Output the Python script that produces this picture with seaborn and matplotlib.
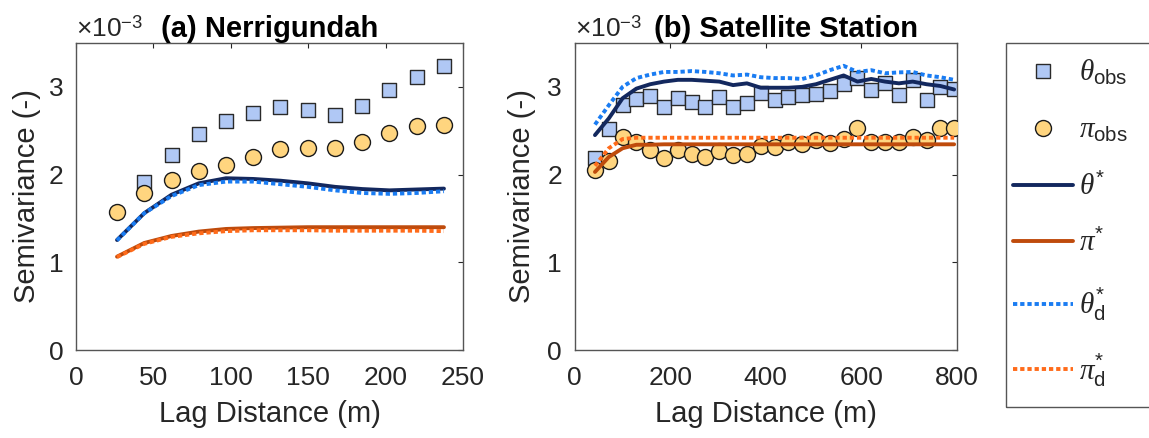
import numpy as np
import matplotlib
matplotlib.use("Agg")
import matplotlib.pyplot as plt
from matplotlib.lines import Line2D
from matplotlib.patches import Rectangle
import seaborn as sns

# ---- semivariance data (units of 1e-3) ----
# (a) Nerrigundah
lag_a = [26.5, 44.1, 61.7, 79.3, 96.9, 114.5, 132.1, 149.7, 167.3, 184.9, 202.5, 220.1, 237.7]
theta_obs_a = [1.92, 2.22, 2.46, 2.615, 2.70, 2.77, 2.74, 2.68, 2.78, 2.96, 3.11, 3.24]
pi_obs_a = [1.577, 1.787, 1.94, 2.04, 2.11, 2.20, 2.29, 2.30, 2.30, 2.37, 2.47, 2.55, 2.57]
theta_star_a = [1.254, 1.56, 1.77, 1.90, 1.958, 1.95, 1.93, 1.90, 1.86, 1.835, 1.82, 1.83, 1.84]
pi_star_a = [1.064, 1.22, 1.30, 1.35, 1.38, 1.39, 1.395, 1.40, 1.40, 1.40, 1.40, 1.40, 1.40]
theta_d_a = [1.25, 1.56, 1.755, 1.88, 1.92, 1.92, 1.89, 1.86, 1.82, 1.79, 1.78, 1.79, 1.81]
pi_d_a = [1.06, 1.21, 1.29, 1.33, 1.355, 1.365, 1.365, 1.365, 1.36, 1.36, 1.36, 1.36, 1.355]

# (b) Satellite Station
lag_b = [42.6, 71.5, 100.4, 129.3, 158.2, 187.1, 216.0, 244.9, 273.8, 302.7, 331.6, 360.5, 389.4,
         418.3, 447.2, 476.1, 505.0, 533.9, 562.8, 591.7, 620.6, 649.5, 678.4, 707.3, 736.2,
         765.1, 794.0]
theta_obs_b = [2.186, 2.52, 2.79, 2.86, 2.90, 2.77, 2.87, 2.83, 2.77, 2.88, 2.77, 2.82, 2.93,
               2.85, 2.89, 2.91, 2.92, 2.95, 3.03, 3.10, 2.96, 3.04, 2.91, 3.08, 2.85, 3.00, 2.98]
pi_obs_b = [2.05, 2.15, 2.43, 2.37, 2.28, 2.19, 2.28, 2.24, 2.20, 2.27, 2.22, 2.24, 2.33,
            2.31, 2.37, 2.345, 2.39, 2.36, 2.41, 2.535, 2.375, 2.37, 2.37, 2.43, 2.39, 2.535, 2.53]
theta_star_b = [2.45, 2.64, 2.87, 2.98, 3.03, 3.06, 3.08, 3.08, 3.07, 3.06, 3.02, 3.04, 2.99,
                2.99, 2.99, 3.00, 3.03, 3.08, 3.13, 3.06, 3.09, 3.06, 3.04, 3.06, 3.03, 3.01, 2.97]
pi_star_b = [2.03, 2.20, 2.30, 2.34, 2.34, 2.345, 2.345, 2.345, 2.345, 2.345, 2.345, 2.345, 2.345,
             2.345, 2.345, 2.345, 2.345, 2.345, 2.345, 2.345, 2.345, 2.345, 2.345, 2.345, 2.345,
             2.345, 2.345]
theta_d_b = [2.57, 2.79, 3.00, 3.10, 3.14, 3.17, 3.17, 3.18, 3.17, 3.155, 3.13, 3.14, 3.11,
             3.10, 3.10, 3.09, 3.13, 3.19, 3.24, 3.17, 3.19, 3.155, 3.165, 3.17, 3.13, 3.11, 3.08]
pi_d_b = [2.10, 2.30, 2.405, 2.42, 2.42, 2.42, 2.42, 2.42, 2.42, 2.42, 2.42, 2.42, 2.42,
          2.42, 2.42, 2.42, 2.42, 2.42, 2.42, 2.42, 2.42, 2.42, 2.42, 2.42, 2.42, 2.42, 2.42]

titles = ["(a) Nerrigundah", "(b) Satellite Station"]
xticks_a = [0, 50, 100, 150, 200, 250]
xticks_b = [0, 200, 400, 600, 800]
yticks = [0, 1, 2, 3]
legend_labels = [r"$\theta_{\mathrm{obs}}$", r"$\pi_{\mathrm{obs}}$", r"$\theta^{*}$",
                 r"$\pi^{*}$", r"$\theta^{*}_{\mathrm{d}}$", r"$\pi^{*}_{\mathrm{d}}$"]

# ---- style ----
sns.set_theme(style="white")
plt.rcParams["font.family"] = ["Liberation Sans", "DejaVu Sans"]
plt.rcParams["mathtext.fontset"] = "custom"
plt.rcParams["mathtext.rm"] = "Liberation Sans"
plt.rcParams["mathtext.it"] = "Liberation Serif:italic"
plt.rcParams["mathtext.bf"] = "Liberation Sans:bold"

INK = "#262626"
FRAME = "#555555"
SQ_FACE, SQ_EDGE = "#B0C8F5", "#2a2a2a"
CI_FACE, CI_EDGE = "#FFD57F", "#1a1a1a"
C_THETA, C_PI = "#13285E", "#BF4B0C"
C_THETA_D, C_PI_D = "#1A7CF2", "#FF6B1A"
DOT = (0, (1.1, 0.75))
LW = 2.8
SQ_MS, CI_MS = 9.4, 11.5
TICK_FS = 19
LABEL_FS = 21

W, H = 1149, 438
fig = plt.figure(figsize=(W / 100, H / 100), dpi=100)
ax_a = fig.add_axes([76 / W, 1 - 350 / H, 387 / W, 307 / H])
ax_b = fig.add_axes([574.6 / W, 1 - 350 / H, 382.4 / W, 307 / H])


def draw_panel(ax, lag, t_obs, t_obs_lag, p_obs, t_star, p_star, t_d, p_d):
    sns.scatterplot(x=t_obs_lag, y=t_obs, marker="s", s=SQ_MS ** 2, color=SQ_FACE,
                    edgecolor=SQ_EDGE, linewidth=1.0, ax=ax, zorder=2)
    sns.scatterplot(x=lag, y=p_obs, marker="o", s=CI_MS ** 2, color=CI_FACE,
                    edgecolor=CI_EDGE, linewidth=1.0, ax=ax, zorder=3)
    sns.lineplot(x=lag, y=t_star, color=C_THETA, lw=LW, ax=ax, sort=False,
                 estimator=None, zorder=4)
    sns.lineplot(x=lag, y=p_star, color=C_PI, lw=LW, ax=ax, sort=False,
                 estimator=None, zorder=4)
    sns.lineplot(x=lag, y=t_d, color=C_THETA_D, lw=LW, linestyle=DOT, ax=ax,
                 sort=False, estimator=None, zorder=5)
    sns.lineplot(x=lag, y=p_d, color=C_PI_D, lw=LW, linestyle=DOT, ax=ax,
                 sort=False, estimator=None, zorder=5)


draw_panel(ax_a, lag_a, theta_obs_a, lag_a[1:], pi_obs_a, theta_star_a, pi_star_a,
           theta_d_a, pi_d_a)
draw_panel(ax_b, lag_b, theta_obs_b, lag_b, pi_obs_b, theta_star_b, pi_star_b,
           theta_d_b, pi_d_b)

panel_cfg = [(ax_a, xticks_a, titles[0], 0.5, -0.090),
             (ax_b, xticks_b, titles[1], 0.553, -0.101)]
for ax, xt, title, tx, ylab_x in panel_cfg:
    ax.set_xlim(xt[0], xt[-1])
    ax.set_ylim(0, 3.5)
    ax.set_xticks(xt)
    ax.set_yticks(yticks)
    ax.set_xticklabels([str(v) for v in xt])
    ax.set_yticklabels([str(v) for v in yticks])
    ax.tick_params(direction="in", top=True, right=True, length=3.6, width=0.8,
                   color=INK, labelcolor=INK, labelsize=TICK_FS)
    ax.tick_params(axis="x", pad=11.5)
    ax.tick_params(axis="y", pad=9)
    for sp in ax.spines.values():
        sp.set_color(FRAME)
        sp.set_linewidth(1.0)
        sp.set_visible(True)
    ax.set_xlabel("Lag Distance (m)", fontsize=LABEL_FS, color=INK)
    ax.set_ylabel("Semivariance (-)", fontsize=LABEL_FS, color=INK)
    ax.xaxis.set_label_coords(0.5, -0.164)
    ax.yaxis.set_label_coords(ylab_x, 0.5)
    ax.text(tx, 1.0195, title, transform=ax.transAxes, ha="center", va="baseline",
            fontsize=LABEL_FS, fontweight="bold", color="black")
    ax.text(0.0, 1.0195, r"$\times10^{-3}$", transform=ax.transAxes, ha="left",
            va="baseline", fontsize=TICK_FS, color=INK)
    ax.grid(False)

handles = [
    Line2D([], [], marker="s", ls="none", markersize=SQ_MS, markerfacecolor=SQ_FACE,
           markeredgecolor=SQ_EDGE, markeredgewidth=1.0),
    Line2D([], [], marker="o", ls="none", markersize=CI_MS, markerfacecolor=CI_FACE,
           markeredgecolor=CI_EDGE, markeredgewidth=1.0),
    Line2D([], [], color=C_THETA, lw=LW),
    Line2D([], [], color=C_PI, lw=LW),
    Line2D([], [], color=C_THETA_D, lw=LW, ls=DOT),
    Line2D([], [], color=C_PI_D, lw=LW, ls=DOT),
]
leg = fig.legend(handles, legend_labels, loc="center left",
                 bbox_to_anchor=(1013 / W, 1 - 223.4 / H), bbox_transform=fig.transFigure,
                 borderaxespad=0, frameon=False, fontsize=21, handlelength=2.05,
                 handletextpad=0.2, labelspacing=0.98, borderpad=0)

# legend box, running off the right edge of the figure
fig.add_artist(Rectangle((1006 / W, 1 - 407 / H), 200 / W, 364.3 / H,
                         transform=fig.transFigure, fill=False, edgecolor=FRAME,
                         linewidth=1.0))

fig.savefig("out.png", dpi=100)
